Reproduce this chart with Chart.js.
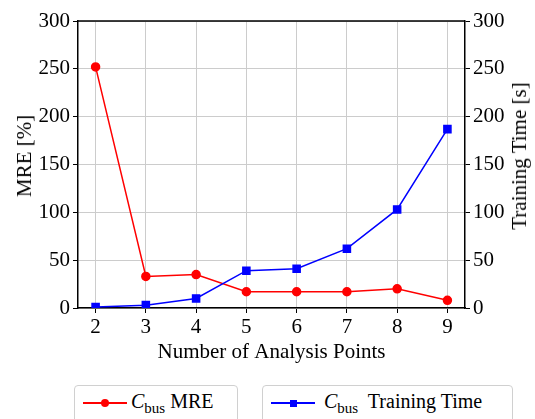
<!DOCTYPE html>
<html>
<head>
<meta charset="utf-8">
<script src="https://cdn.jsdelivr.net/npm/chart.js@4"></script>
<style>
  html, body { margin: 0; padding: 0; background: #fff; overflow: hidden; }
  #wrap { position: relative; width: 535px; height: 419px; overflow: hidden;
          font-family: "Liberation Serif", "DejaVu Serif", serif; color: #000; }
  #chart { position: absolute; left: 0; top: 0; }
  .axis-title { position: absolute; font-size: 21px; white-space: nowrap; line-height: 24px;
                transform: translate(-50%, -50%) rotate(-90deg); }
  .legend-box {
    position: absolute; top: 385px; height: 50px;
    border: 1px solid #d0d0d0; border-radius: 4px; background: #fff;
    font-size: 20px;
  }
  .legend-line { position: absolute; height: 2px; top: 16px; }
  .legend-marker { position: absolute; }
  .legend-text { position: absolute; top: 3px; white-space: pre; line-height: 24px; }
  .legend-text i { font-style: italic; }
  .legend-text sub { font-size: 15px; vertical-align: -5px; line-height: 0; }
</style>
</head>
<body>
<div id="wrap">
  <canvas id="chart" width="535" height="419"></canvas>
  <div class="axis-title" style="left:24px; top:156px;">MRE [%]</div>
  <div class="axis-title" style="left:519px; top:156px;">Training Time [s]</div>
</div>
<script>
// Number of analysis points
const xValues = [2, 3, 4, 5, 6, 7, 8, 9];
// Mean relative error of C_bus [%]
const mreValues = [252, 33, 35, 17, 17, 17, 20, 8];
// Training time [s]
const timeValues = [1, 3, 10, 39, 41, 62, 103, 187];
const xTicks = [2, 3, 4, 5, 6, 7, 8, 9];
const yTicks = [0, 50, 100, 150, 200, 250, 300];

const FONT = { family: '"Liberation Serif", "DejaVu Serif", serif', size: 21 };

const toPoints = vals => xValues.map((x, i) => ({ x: x, y: vals[i] }));

// Closes the frame along the top edge of the plot area
const topFrame = {
  id: 'topFrame',
  afterDraw(chart) {
    const { ctx, chartArea } = chart;
    ctx.save();
    ctx.strokeStyle = '#000';
    ctx.lineWidth = 1.5;
    ctx.beginPath();
    ctx.moveTo(chartArea.left, chartArea.top);
    ctx.lineTo(chartArea.right, chartArea.top);
    ctx.stroke();
    ctx.restore();
  }
};

const commonY = {
  min: 0,
  max: 300,
  afterBuildTicks: s => { s.ticks = yTicks.map(v => ({ value: v })); },
  ticks: { font: FONT, color: '#000', padding: 3 },
  border: { color: '#000', width: 1.5 },
};

new Chart(document.getElementById('chart'), {
  type: 'line',
  data: {
    datasets: [
      {
        label: 'MRE',
        data: toPoints(mreValues),
        yAxisID: 'y',
        borderColor: '#ff0000',
        backgroundColor: '#ff0000',
        pointStyle: 'circle',
        pointRadius: 4,
        borderWidth: 1.5,
        order: 1
      },
      {
        label: 'Training Time',
        data: toPoints(timeValues),
        yAxisID: 'y2',
        borderColor: '#0000ff',
        backgroundColor: '#0000ff',
        pointStyle: 'rect',
        pointRadius: 5,
        borderWidth: 1.5,
        order: 0
      }
    ]
  },
  options: {
    responsive: false,
    animation: false,
    devicePixelRatio: 1,
    layout: { padding: { top: 21, left: 0, right: 0, bottom: 54 } },
    plugins: { legend: { display: false }, tooltip: { enabled: false } },
    scales: {
      x: {
        type: 'linear',
        min: 1.65,
        max: 9.35,
        afterBuildTicks: s => { s.ticks = xTicks.map(v => ({ value: v })); },
        afterFit: s => { s.height = 57; },
        grid: { color: '#cccccc', lineWidth: 1, tickColor: '#000', tickLength: 5 },
        border: { color: '#000', width: 1.5 },
        ticks: { font: FONT, color: '#000', padding: 2 },
        title: { display: true, text: 'Number of Analysis Points', font: FONT, color: '#000', padding: { top: 0, bottom: 0 } }
      },
      y: Object.assign({}, commonY, {
        position: 'left',
        afterFit: s => { s.width = 78; },
        grid: { color: '#cccccc', lineWidth: 1, tickColor: '#000', tickLength: 5 }
      }),
      y2: Object.assign({}, commonY, {
        position: 'right',
        afterFit: s => { s.width = 70; },
        grid: { drawOnChartArea: false, tickColor: '#000', tickLength: 5 }
      })
    }
  },
  plugins: [topFrame]
});

// Legend: one framed entry per series, placed under the plot
const legendItems = [
  { left: 74, width: 162, color: '#ff0000', marker: 'circle', lineX: 8, textX: 56, suffix: ' MRE' },
  { left: 262, width: 249, color: '#0000ff', marker: 'rect', lineX: 8, textX: 61, suffix: '  Training Time' }
];
const wrap = document.getElementById('wrap');
legendItems.forEach(it => {
  const box = document.createElement('div');
  box.className = 'legend-box';
  box.style.left = it.left + 'px';
  box.style.width = it.width + 'px';

  const line = document.createElement('div');
  line.className = 'legend-line';
  line.style.left = it.lineX + 'px';
  line.style.width = '44px';
  line.style.background = it.color;
  box.appendChild(line);

  const mk = document.createElement('div');
  mk.className = 'legend-marker';
  mk.style.background = it.color;
  if (it.marker === 'circle') {
    mk.style.width = '8px'; mk.style.height = '8px'; mk.style.borderRadius = '50%';
    mk.style.left = (it.lineX + 18) + 'px'; mk.style.top = '13px';
  } else {
    mk.style.width = '7px'; mk.style.height = '7px';
    mk.style.left = (it.lineX + 18.5) + 'px'; mk.style.top = '13.5px';
  }
  box.appendChild(mk);

  const txt = document.createElement('div');
  txt.className = 'legend-text';
  txt.style.left = it.textX + 'px';
  txt.innerHTML = '<i>C</i><sub>bus</sub>' + it.suffix;
  box.appendChild(txt);

  wrap.appendChild(box);
});
</script>
</body>
</html>
